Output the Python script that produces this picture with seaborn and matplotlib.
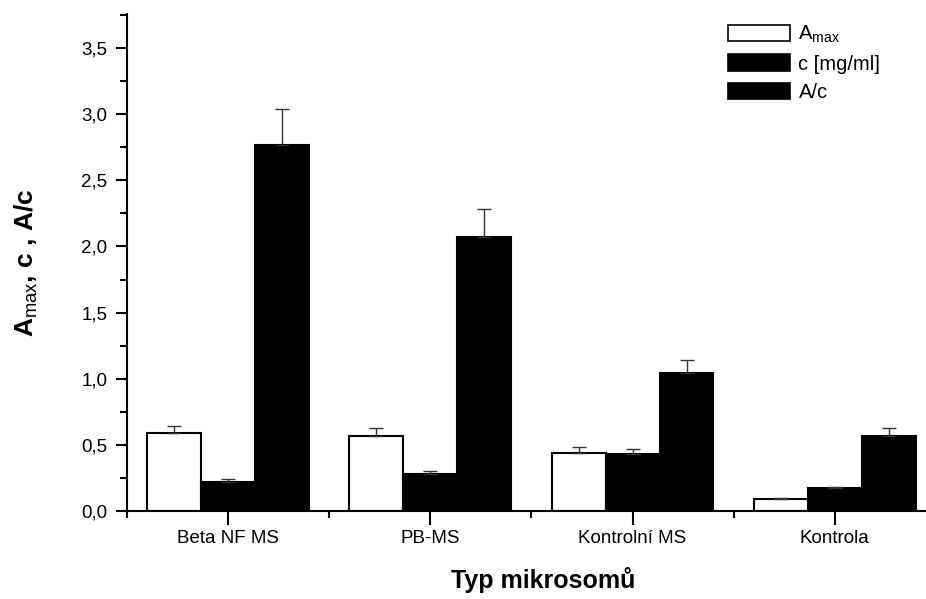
import pandas as pd
import matplotlib.pyplot as plt
import seaborn as sns
from matplotlib.ticker import MultipleLocator, FixedLocator, FuncFormatter
from matplotlib.patches import Patch

categories = ["Beta NF MS", "PB-MS", "Kontrolní MS", "Kontrola"]
series = [r"A$_{\mathrm{max}}$", "c [mg/ml]", "A/c"]
amax = [0.59, 0.57, 0.44, 0.09]
amax_err = [0.05, 0.06, 0.04, 0.01]
conc = [0.22, 0.28, 0.43, 0.17]
conc_err = [0.02, 0.02, 0.04, 0.01]
ratio = [2.77, 2.07, 1.04, 0.57]
ratio_err = [0.27, 0.21, 0.10, 0.06]
colors = ["white", "black", "black"]

errors = [amax_err, conc_err, ratio_err]

df = pd.DataFrame({
    "Typ": categories * 3,
    "Serie": [s for s in series for _ in categories],
    "Hodnota": amax + conc + ratio,
})

sns.set_style("ticks")
plt.rcParams["font.family"] = ["Liberation Sans", "DejaVu Sans"]
plt.rcParams["mathtext.fontset"] = "custom"
plt.rcParams["mathtext.rm"] = "Liberation Sans"
for key in ["text.color", "axes.labelcolor", "xtick.color", "ytick.color", "axes.edgecolor"]:
    plt.rcParams[key] = "black"

fig = plt.figure(figsize=(9.26, 5.99), dpi=100)
ax = fig.add_axes([0.137, 0.147, 0.9, 0.83])

sns.barplot(data=df, x="Typ", y="Hodnota", hue="Serie", order=categories,
            hue_order=series, palette=colors, edgecolor="black", linewidth=1.5,
            errorbar=None, width=0.8, ax=ax, legend=False)

# upward-only error bars
for cont, err in zip(ax.containers, errors):
    xs = [b.get_x() + b.get_width() / 2 for b in cont]
    hs = [b.get_height() for b in cont]
    ax.errorbar(xs, hs, yerr=[[0] * len(err), err], fmt="none",
                ecolor="#333333", elinewidth=1, capsize=5, capthick=1)

ax.set_xlim(-0.5, 3.62)
ax.set_ylim(0, 3.76)
ax.yaxis.set_major_locator(MultipleLocator(0.5))
ax.yaxis.set_minor_locator(MultipleLocator(0.25))
ax.yaxis.set_major_formatter(FuncFormatter(lambda v, p: f"{v:.1f}".replace(".", ",")))
ax.xaxis.set_minor_locator(FixedLocator([-0.5, 0.5, 1.5, 2.5]))
ax.tick_params(axis="both", which="major", direction="out", width=1.5, labelsize=13.5)
ax.tick_params(axis="y", which="major", length=8, pad=6)
ax.tick_params(axis="x", which="major", length=10, pad=4)
ax.tick_params(axis="both", which="minor", direction="out", width=1.5, length=5)

sns.despine(ax=ax)
ax.spines["left"].set_linewidth(1.5)
ax.spines["bottom"].set_linewidth(1.5)

ax.set_xlabel("Typ mikrosomů", fontsize=18, fontweight="bold", labelpad=14)
ax.set_ylabel(r"A$_{\mathrm{max}}$, c , A/c", fontsize=19, fontweight="bold", labelpad=30)

handles = [Patch(facecolor=c, edgecolor="black", linewidth=1.2) for c in colors]
fig.legend(handles, series, loc="upper left", bbox_to_anchor=(728 / 926, 1 - 24 / 599),
           frameon=False, fontsize=14.5, handlelength=3.1, handleheight=0.9,
           handletextpad=0.4, labelspacing=0.45, borderpad=0, borderaxespad=0)

fig.savefig("out.png", dpi=100)
